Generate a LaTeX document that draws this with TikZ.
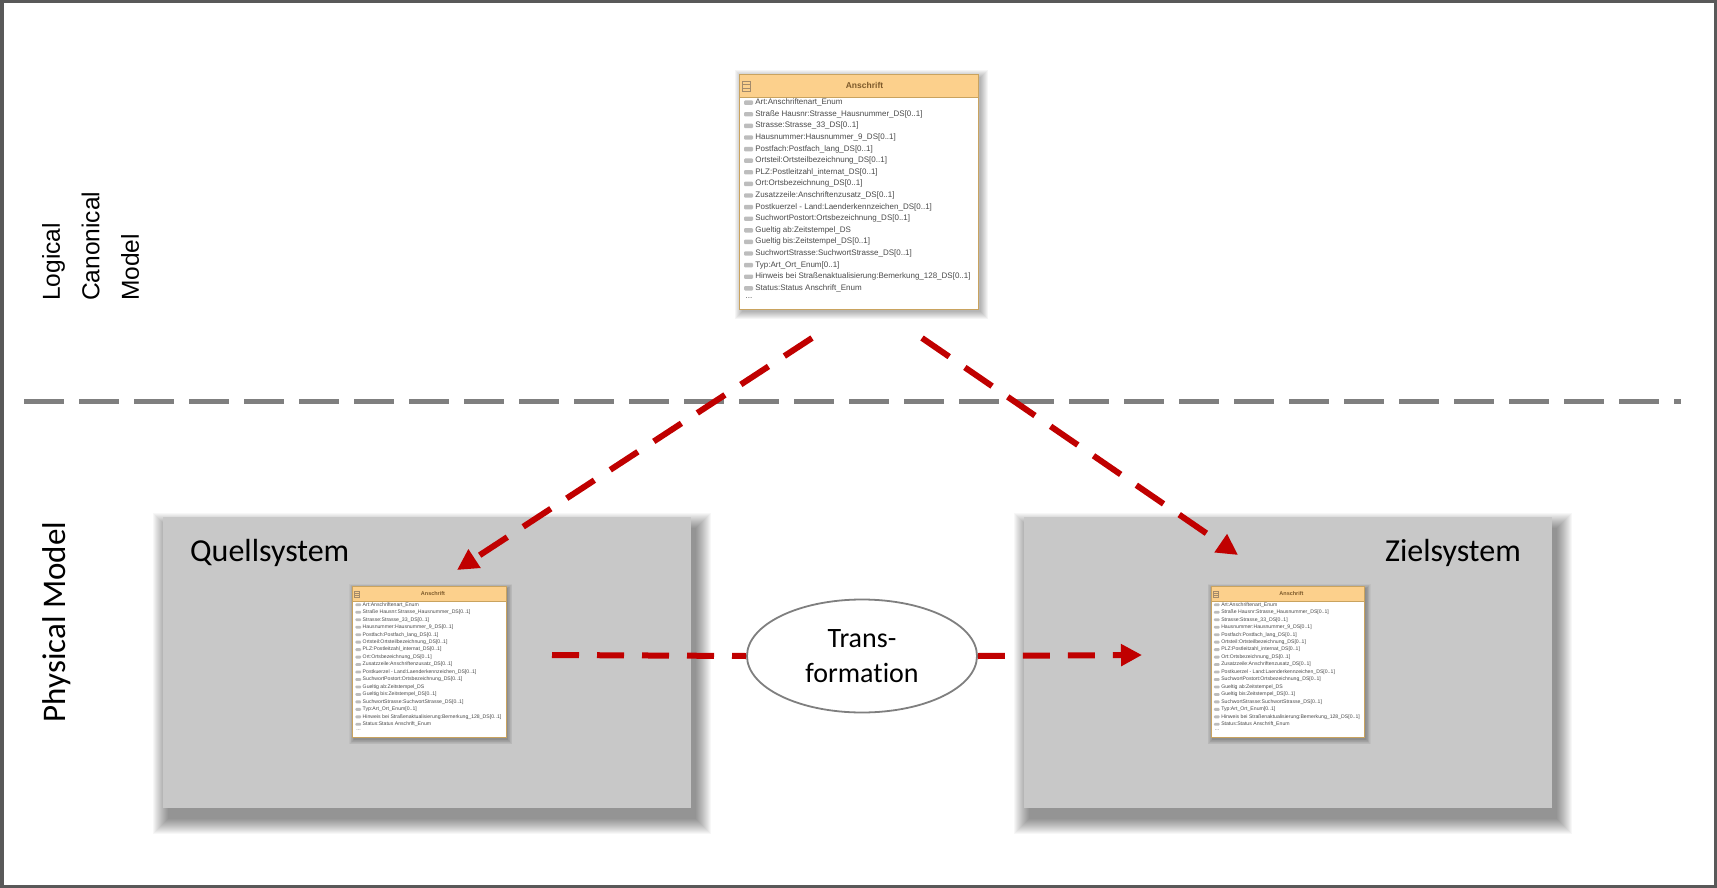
\documentclass[tikz,border=0pt]{standalone}
\usepackage{fontspec}
\setmainfont{Carlito}[Ligatures=NoCommon]
\newfontfamily\arialf{Liberation Sans}
\usetikzlibrary{arrows.meta,shapes.geometric}
\definecolor{frameC}{HTML}{595959}
\definecolor{sepC}{HTML}{7F7F7F}
\definecolor{redC}{HTML}{C00000}
\definecolor{panelC}{HTML}{C8C8C8}
\definecolor{hdrC}{HTML}{FCD08C}
\definecolor{hdrLine}{HTML}{C9A35F}
\definecolor{hdrText}{HTML}{7D5A2B}
\definecolor{rowText}{HTML}{4A4A4A}
\definecolor{rowIcon}{HTML}{BDBDBD}
\tikzset{
  frameline/.style={draw=frameC, line width=3.5pt},
  sepline/.style={draw=sepC, line width=5pt, dash pattern=on 40pt off 15pt},
  reddash/.style={draw=redC, line width=6pt, dash pattern=on 27pt off 18pt},
  reddiag/.style={draw=redC, line width=6pt, dash pattern=on 33pt off 19pt},
  redtip/.style={-{Triangle[length=21pt,width=21pt]}},
  shadowlayer/.style={fill=black, opacity=0.03},
  panel/.style={fill=panelC, draw=none, anchor=north west, inner sep=0pt,
    minimum width=528pt, minimum height=291pt},
  paneltitle/.style={font=\fontsize{32}{38}\selectfont, inner sep=0pt},
  sidetitle/.style={rotate=90, inner sep=0pt},
  transel/.style={ellipse, draw=sepC, line width=1.8pt, fill=white, inner sep=0pt,
    minimum width=230pt, minimum height=113pt, align=center,
    font=\fontsize{28}{35}\selectfont},
  rowtext/.style={anchor=west, inner sep=0pt, text=rowText, font=\arialf\fontsize{8}{9}\selectfont},
  hdrtext/.style={inner sep=0pt, text=hdrText, font=\arialf\bfseries\fontsize{8.5}{10}\selectfont},
  classbox/.pic={
    \foreach \k in {0,...,7}{
      \fill[black, opacity=0.04] ({2-\k},{3-\k}) rectangle ({241+\k},{238+\k});
    }
    \fill[white] (0,0) rectangle (239,235);
    \fill[hdrC] (0,0) rectangle (239,23);
    \draw[hdrLine, line width=1pt] (0,0) rectangle (239,235);
    \draw[hdrLine, line width=0.8pt] (0,23) -- (239,23);
    \draw[hdrText!70, line width=0.6pt] (3,7) rectangle (11,17);
    \draw[hdrText!70, line width=0.6pt] (3,10.3) -- (11,10.3) (3,13.6) -- (11,13.6);
    \node[hdrtext] (-title) at (125,11.5) {Anschrift};
    \foreach \t [count=\i from 0] in {
      {Art:Anschriftenart\_Enum},
      {Straße Hausnr:Strasse\_Hausnummer\_DS[0..1]},
      {Strasse:Strasse\_33\_DS[0..1]},
      {Hausnummer:Hausnummer\_9\_DS[0..1]},
      {Postfach:Postfach\_lang\_DS[0..1]},
      {Ortsteil:Ortsteilbezeichnung\_DS[0..1]},
      {PLZ:Postleitzahl\_internat\_DS[0..1]},
      {Ort:Ortsbezeichnung\_DS[0..1]},
      {Zusatzzeile:Anschriftenzusatz\_DS[0..1]},
      {Postkuerzel - Land:Laenderkennzeichen\_DS[0..1]},
      {SuchwortPostort:Ortsbezeichnung\_DS[0..1]},
      {Gueltig ab:Zeitstempel\_DS},
      {Gueltig bis:Zeitstempel\_DS[0..1]},
      {SuchwortStrasse:SuchwortStrasse\_DS[0..1]},
      {Typ:Art\_Ort\_Enum[0..1]},
      {Hinweis bei Straßenaktualisierung:Bemerkung\_128\_DS[0..1]},
      {Status:Status Anschrift\_Enum}}{
      \fill[rowIcon, rounded corners=1pt] (4.5,{28.4+11.6*\i-2.2}) rectangle (13.5,{28.4+11.6*\i+2.2});
      \node[rowtext] (-r\i) at (15.7,{28.4+11.6*\i}) {\t};
    }
    \node[rowtext] (-more) at (6,{28.4+11.6*17-2}) {...};
  }
}
\begin{document}
\begin{tikzpicture}[x=1pt,y=-1pt]
\useasboundingbox (0,0) rectangle (1717,888);
\fill[white] (0,0) rectangle (1717,888);
\draw[frameline] (1.75,1.75) rectangle (1715.25,886.25);

% side titles
\node[sidetitle, align=left, anchor=north west, font=\arialf\fontsize{24.5}{39.5}\selectfont] (logical) at (42,301) {Logical\\Canonical\\Model};
\node[sidetitle, font=\fontsize{33}{40}\selectfont] (physical) at (57,622) {Physical Model};

% separator
\coordinate (sepL) at (24,401);
\coordinate (sepR) at (1681,401);
\draw[sepline] (sepL) -- (sepR);

% panel shadows
\foreach \k in {0,...,15}{
  \fill[shadowlayer] ({163+5-\k},{517+11-\k}) rectangle ({691+5+\k},{808+11+\k});
  \fill[shadowlayer] ({1024+5-\k},{517+11-\k}) rectangle ({1552+5+\k},{808+11+\k});
}
% panels
\node[panel] (quell) at (163,517) {};
\node[panel] (ziel) at (1024,517) {};
\node[paneltitle, anchor=base west] (quelltitle) at (190,561) {Quellsystem};
\node[paneltitle, anchor=base east] (zieltitle) at (1521,561) {Zielsystem};

% class boxes
\pic (big) at (739.5,74.3) {classbox};
\pic[scale=0.644, transform shape] (qbox) at (352.5,586.5) {classbox};
\pic[scale=0.644, transform shape] (zbox) at (1211,586.5) {classbox};

% transformation
\node[transel] (trans) at (862,656) {Trans-\\formation};

% arrows
\coordinate (a1s) at (812,338);
\coordinate (a1e) at (457,570);
\coordinate (a2s) at (922,338);
\coordinate (a2e) at (1238,555);
\coordinate (a3s) at (552,655);
\coordinate (a4e) at (1142,655);
\draw[reddiag, redtip] (a1s) -- (a1e);
\draw[reddiag, redtip] (a2s) -- (a2e);
\draw[reddash] (a3s) -- (trans.west);
\draw[reddash, redtip] (trans.east) -- (a4e);
\end{tikzpicture}
\end{document}
